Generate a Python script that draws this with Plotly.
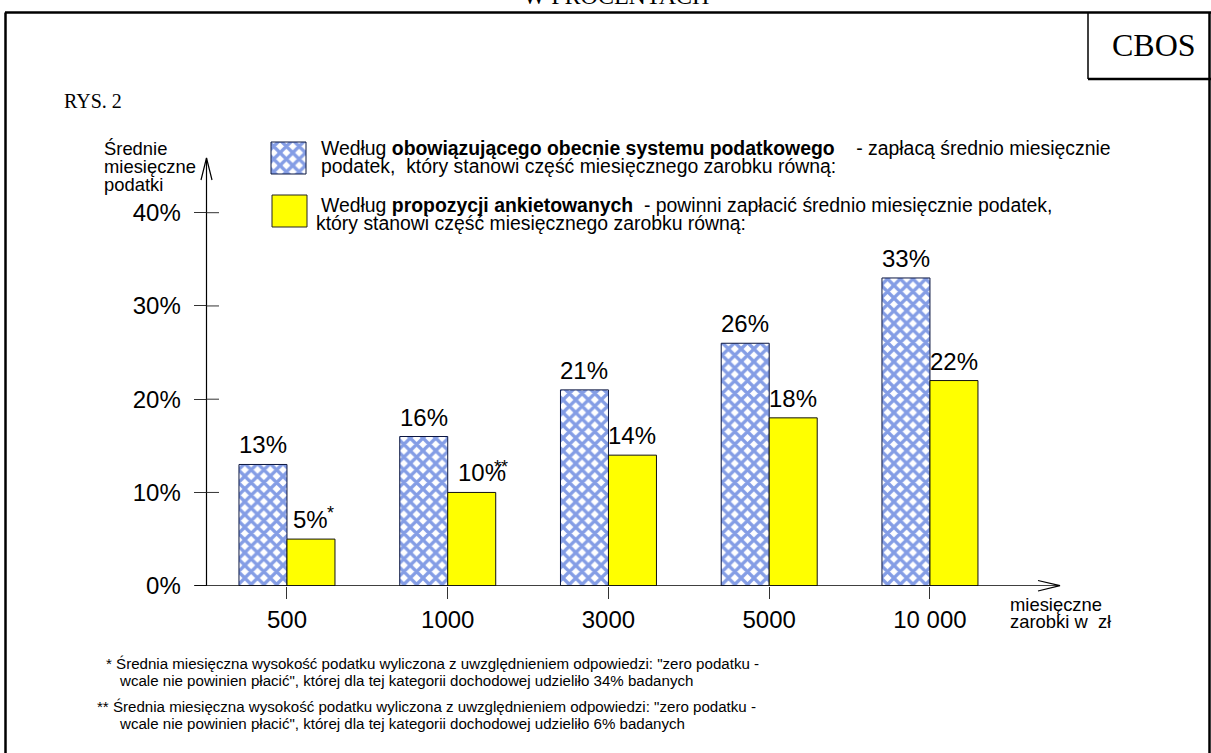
import plotly.graph_objects as go

# ---------------- data ----------------
categories = ["500", "1000", "3000", "5000", "10 000"]
current_system = [13, 16, 21, 26, 33]
proposed = [5, 10, 14, 18, 22]
proposed_marks = ["*", "**", "", "", ""]
y_ticks = [0, 10, 20, 30, 40]
y_tick_labels = ["0%", "10%", "20%", "30%", "40%"]

# ---------------- geometry helpers (margins are zero -> paper == pixels) ----------------
W, H = 1211, 753


def px(x):
    return x / W


def py(y):
    return 1 - y / H


SANS = "Liberation Sans, Arial, sans-serif"
SERIF = "Liberation Serif, Times New Roman, serif"
BLUE = "#0a3ccc"
YELLOW = "#ffff00"
HATCH = dict(shape="x", fgcolor=BLUE, bgcolor="white", size=9, solidity=0.6)

x_pos = list(range(len(categories)))
bar_w = 0.2986  # fraction of category spacing per bar

fig = go.Figure()
fig.add_bar(
    x=x_pos, y=current_system, name="obecny system",
    marker=dict(color="white", pattern=HATCH, line=dict(color="#0b1640", width=1)),
    showlegend=False, hoverinfo="skip",
)
fig.add_bar(
    x=x_pos, y=proposed, name="propozycje",
    marker=dict(color=YELLOW, line=dict(color="#111111", width=1)),
    showlegend=False, hoverinfo="skip",
)

shapes = []
annotations = []
line_col = "#000000"

# ---- value labels ----
label_font = dict(family=SANS, size=24, color="black")
for i, v in enumerate(current_system):
    annotations.append(dict(x=i - bar_w / 2, y=v, xref="x", yref="y", text=f"{v}%",
                            showarrow=False, yanchor="bottom", yshift=4, font=label_font))
for i, v in enumerate(proposed):
    xs = 10 if proposed_marks[i] == "**" else 0
    annotations.append(dict(x=i + bar_w / 2, y=v, xref="x", yref="y", text=f"{v}%",
                            showarrow=False, yanchor="bottom", yshift=4, xshift=xs, font=label_font))
    if proposed_marks[i] == "*":
        annotations.append(dict(x=i + bar_w / 2, y=v, xref="x", yref="y", text="*",
                                showarrow=False, xanchor="left", yanchor="bottom",
                                xshift=14, yshift=14, font=dict(family=SANS, size=18, color="black")))
    elif proposed_marks[i] == "**":
        annotations.append(dict(x=i + bar_w / 2, y=v, xref="x", yref="y", text="**",
                                showarrow=False, xanchor="left", yanchor="bottom",
                                xshift=20, yshift=13, font=dict(family=SANS, size=18, color="black")))

# ---- axes drawn as lines with arrows ----
ax_x = 206.5
shapes.append(dict(type="line", xref="paper", yref="paper", x0=px(ax_x), x1=px(ax_x),
                   y0=py(585.7), y1=py(158), line=dict(color=line_col, width=1.2)))
shapes.append(dict(type="path", xref="paper", yref="paper",
                   path=f"M {px(201)} {py(180)} L {px(ax_x)} {py(158)} L {px(212)} {py(180)}",
                   line=dict(color=line_col, width=1.2)))
shapes.append(dict(type="line", xref="paper", yref="y", x0=px(195), x1=px(1060), y0=0, y1=0,
                   line=dict(color=line_col, width=1.2)))
shapes.append(dict(type="path", xref="paper", yref="paper",
                   path=f"M {px(1038)} {py(580.5)} L {px(1060)} {py(585.7)} L {px(1038)} {py(591)}",
                   line=dict(color=line_col, width=1.2)))
# inner halves of the crossing y ticks
for t in y_ticks[1:]:
    shapes.append(dict(type="line", xref="paper", yref="y", x0=px(ax_x), x1=px(219), y0=t, y1=t,
                       line=dict(color="#333333", width=1)))

# ---- frame ----
fr = dict(color="black", width=2.5)
shapes.append(dict(type="line", xref="paper", yref="paper", x0=px(5), x1=px(1211), y0=py(12.5), y1=py(12.5), line=fr))
shapes.append(dict(type="line", xref="paper", yref="paper", x0=px(5.5), x1=px(5.5), y0=py(12.5), y1=py(753), line=fr))
shapes.append(dict(type="line", xref="paper", yref="paper", x0=px(1209.5), x1=px(1209.5), y0=py(12.5), y1=py(753), line=fr))
shapes.append(dict(type="line", xref="paper", yref="paper", x0=px(1088), x1=px(1088), y0=py(12.5), y1=py(79), line=dict(color="black", width=1.5)))
shapes.append(dict(type="line", xref="paper", yref="paper", x0=px(1088), x1=px(1211), y0=py(79), y1=py(79), line=dict(color="black", width=2.5)))

# ---- legend swatches ----
fig.add_scatter(
    x=[px(271), px(306), px(306), px(271), px(271)],
    y=[py(142), py(142), py(174), py(174), py(142)],
    xaxis="x2", yaxis="y2", mode="lines", fill="toself",
    fillcolor="white", fillpattern=HATCH,
    line=dict(color="#0b1640", width=1), showlegend=False, hoverinfo="skip",
)
shapes.append(dict(type="rect", xref="paper", yref="paper", x0=px(272), x1=px(307),
                   y0=py(195), y1=py(227), fillcolor=YELLOW, line=dict(color="#222222", width=1)))

nb = "\u00a0"


def txt(x, y, text, size=15, family=SANS, anchor="left"):
    annotations.append(dict(x=px(x), y=py(y), xref="paper", yref="paper", text=text,
                            showarrow=False, xanchor=anchor, yanchor="middle",
                            font=dict(family=family, size=size, color="black")))


LEG = 19.4
txt(319, 148, f"Według <b>obowiązującego obecnie systemu podatkowego</b>{nb*4}- zapłacą średnio miesięcznie", LEG)
txt(319, 166, f"podatek,{nb}{nb}który stanowi część miesięcznego zarobku równą:", LEG)
txt(319, 205, f"Według <b>propozycji ankietowanych</b>{nb*2}- powinni zapłacić średnio miesięcznie podatek,", LEG)
txt(314, 223, "który stanowi część miesięcznego zarobku równą:", LEG)

# y-axis title
AX = 18.4
txt(102, 148, "Średnie", AX)
txt(102, 166, "miesięczne", AX)
txt(102, 184, "podatki", AX)
# x-axis title
txt(1008, 604, "miesięczne", AX)
txt(1008, 621, f"zarobki w{nb}{nb}zł", AX)

# footnotes
fn = 15.1
txt(104, 663, "* Średnia miesięczna wysokość podatku wyliczona z uwzględnieniem odpowiedzi: \"zero podatku -", fn)
txt(117, 680, "wcale nie powinien płacić\", której dla tej kategorii dochodowej udzieliło 34% badanych", fn)
txt(95, 706, "** Średnia miesięczna wysokość podatku wyliczona z uwzględnieniem odpowiedzi: \"zero podatku -", fn)
txt(117, 723, "wcale nie powinien płacić\", której dla tej kategorii dochodowej udzieliło 6% badanych", fn)

# serif texts
txt(62, 101, "RYS. 2", size=20, family=SERIF)
txt(1154, 45, "CBOS", size=32, family=SERIF, anchor="center")
annotations.append(dict(x=px(616), y=py(11), xref="paper", yref="paper", text="W PROCENTACH",
                        showarrow=False, xanchor="center", yanchor="bottom",
                        font=dict(family=SERIF, size=24, color="black")))

fig.update_layout(
    width=W, height=H,
    margin=dict(l=0, r=0, t=0, b=0),
    paper_bgcolor="white", plot_bgcolor="rgba(0,0,0,0)",
    barmode="group", bargap=1 - 2 * bar_w, bargroupgap=0,
    showlegend=False,
    xaxis=dict(domain=[px(206.6), px(1060)], range=[-0.5, 4.809],
               tickmode="array", tickvals=x_pos, ticktext=categories,
               ticks="outside", ticklen=12, tickcolor="#333333", tickwidth=1,
               tickfont=dict(family=SANS, size=24, color="black"),
               showline=False, showgrid=False, zeroline=False, automargin=False, fixedrange=True),
    yaxis=dict(domain=[py(585.7), py(158)], range=[0, (585.7 - 158) / 9.325],
               tickmode="array", tickvals=y_ticks, ticktext=y_tick_labels,
               ticks="outside", ticklen=12, tickcolor="#333333", tickwidth=1,
               ticklabelstandoff=8,
               tickfont=dict(family=SANS, size=24, color="black"),
               showline=False, showgrid=False, zeroline=False, automargin=False, fixedrange=True),
    xaxis2=dict(domain=[0, 1], range=[0, 1], visible=False, anchor="y2", fixedrange=True),
    yaxis2=dict(domain=[0, 1], range=[0, 1], visible=False, anchor="x2", fixedrange=True),
    shapes=shapes,
    annotations=annotations,
)

fig.write_html("out.html", config={"displayModeBar": False},
               post_script="document.body.style.margin='0';document.body.style.overflow='hidden';")
